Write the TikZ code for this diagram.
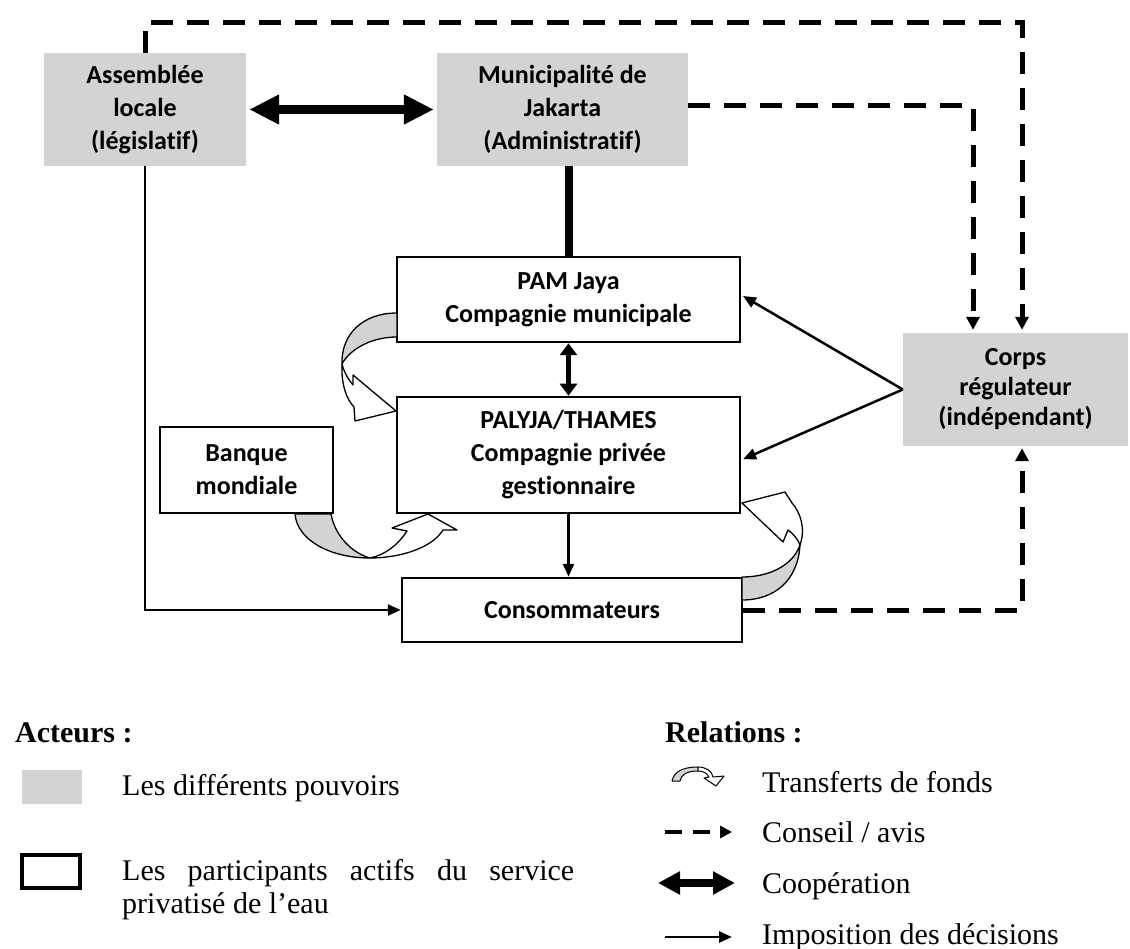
\documentclass[tikz,border=0pt]{standalone}
\usepackage{fontspec}
\setmainfont{Liberation Serif}
\newfontfamily\boxfont{Carlito}[Ligatures=NoCommon]
\usetikzlibrary{arrows.meta}
\definecolor{pgray}{RGB}{211,211,211}
\begin{document}
\begin{tikzpicture}[x=1pt,y=-1pt,
  boxtext/.style={font=\boxfont\bfseries\fontsize{26}{33}\selectfont, align=center, inner sep=0pt},
  power/.style={boxtext, fill=pgray},
  actor/.style={boxtext, draw, line width=2.5pt, fill=white},
  imp/.style={line width=2.5pt, -{Triangle[length=13pt,width=11pt]}},
  adv/.style={line width=5pt, dash pattern=on 22pt off 14pt, -{Triangle[length=13pt,width=13pt]}},
  coop/.style={line width=9pt, {Triangle[length=30pt,width=28pt]}-{Triangle[length=30pt,width=28pt]}},
  fundg/.style={fill=pgray, draw=black, line width=1.3pt, line join=round},
  fundw/.style={fill=white, draw=black, line width=1.3pt, line join=round},
  legend/.style={font=\fontsize{30}{34}\selectfont, anchor=base west, inner sep=0pt},
  legendhead/.style={font=\bfseries\fontsize{30}{34}\selectfont, anchor=base west, inner sep=0pt}]
\useasboundingbox (0,0) rectangle (1130,949);

% nodes
\node[power, minimum width=202pt, minimum height=113pt] (asm) at (145,109.5) {Assemblée\\locale\\(législatif)};
\node[power, minimum width=251pt, minimum height=113pt] (mun) at (562.5,109.5) {Municipalité de\\Jakarta\\(Administratif)};
\node[actor, minimum width=343pt, minimum height=85pt] (pam) at (568.5,299.5) {PAM Jaya\\Compagnie municipale};
\node[actor, minimum width=343pt, minimum height=116pt] (pal) at (568.5,455) {PALYJA/THAMES\\Compagnie privée\\gestionnaire};
\node[actor, minimum width=173pt, minimum height=86pt] (bq) at (246.5,470) {Banque\\mondiale};
\node[actor, minimum width=340pt, minimum height=64pt] (con) at (572,610) {Consommateurs};
\node[power, font=\boxfont\bfseries\fontsize{26}{30}\selectfont, minimum width=225pt, minimum height=113pt] (corps) at (1015.5,389.5) {Corps\\régulateur\\(indépendant)};

% connectors
\draw[coop, shorten <=3pt, shorten >=3pt] (asm.east) -- (mun.west);
\draw[line width=8pt] (pam.north) -- (pam.north |- mun.south);
\draw[line width=5pt, {Triangle[length=12pt,width=17pt]}-{Triangle[length=12pt,width=17pt]}] (pam.south) -- (pal.north);
\draw[imp] (pal.south) -- (pal.south |- con.north);
\draw[imp] (asm.south) |- (con.west);
\draw[imp, shorten >=2pt] (corps.west) -- ([yshift=4.5pt]pam.east);
\draw[imp, shorten >=2pt] (corps.west) -- ([yshift=-5pt]pal.east);

\coordinate (topR) at (1022,23);
\coordinate (munR) at (973,106);
\draw[adv, shorten >=3pt] (asm.north) |- (topR) -- (topR |- corps.north);
\draw[adv, shorten >=3pt] (mun.east |- munR) -- (munR) -- (munR |- corps.north);
\draw[adv, shorten >=2pt] (con.east) -| (topR |- corps.south);

% fund transfers
\draw[fundg] (397,313) .. controls (362,313) and (341,335) .. (342,364) .. controls (348,352) and (368,337) .. (397,337) -- cycle;
\draw[fundw] (342,364) .. controls (341,385) and (347,400) .. (354,407) -- (355,421) -- (396,411) -- (353,375) -- (353,385) .. controls (348,379) and (344,372) .. (342,364) -- cycle;

\draw[fundg] (295,514) .. controls (297,540) and (330,558) .. (370,558) .. controls (352,553) and (335,536) .. (331,514) -- cycle;
\draw[fundw] (370,558) .. controls (400,558) and (432,548) .. (443,530) -- (457,530) -- (428,514) -- (392,528) -- (407,531) .. controls (398,545) and (385,555) .. (370,558) -- cycle;

\draw[fundg] (742,577) .. controls (770,577) and (793,565) .. (800,545) .. controls (798,580) and (775,600) .. (742,600) -- cycle;
\draw[fundw] (800,545) .. controls (806,528) and (800,512) .. (792,503) -- (785,492) -- (742,503) -- (783,542) -- (788,530) .. controls (794,534) and (798,540) .. (800,545) -- cycle;

% legend
\node[legendhead] (hact) at (15,742) {Acteurs :};
\node[fill=pgray, minimum width=60pt, minimum height=34pt, inner sep=0pt] (lgray) at (52,787) {};
\node[legend] (tgray) at (122,795) {Les différents pouvoirs};
\node[draw, line width=4pt, minimum width=58pt, minimum height=33pt, inner sep=0pt] (lwhite) at (51,871.5) {};
\node[legend] (twhite1) at (122,880) {\makebox[452pt][s]{Les participants actifs du service}};
\node[legend] (twhite2) at (122,913) {privatisé de l’eau};

\node[legendhead] (hrel) at (665,742) {Relations :};
\draw[fundg, line width=1pt] (672,781) .. controls (674,771) and (684,767) .. (698,767) -- (698,771) .. controls (688,771) and (681,774) .. (680,781) -- cycle;
\draw[fundw, line width=1pt] (698,767) .. controls (706,767) and (712,771) .. (713,777) -- (724,776) -- (716,786) -- (704,778) -- (709,777) .. controls (707,773) and (703,771) .. (698,771) -- cycle;
\node[legend] (tfund) at (762,792) {Transferts de fonds};

\coordinate (la1) at (665,832);
\coordinate (la2) at (732,832);
\draw[line width=4pt, dash pattern=on 17pt off 11pt, -{Triangle[length=12pt,width=12pt]}] (la1) -- (la2);
\node[legend] (tadv) at (762,842) {Conseil / avis};

\coordinate (lc1) at (658,883);
\coordinate (lc2) at (735,883);
\draw[line width=8pt, {Triangle[length=22pt,width=22pt]}-{Triangle[length=22pt,width=22pt]}] (lc1) -- (lc2);
\node[legend] (tcoop) at (762,893) {Coopération};

\coordinate (li1) at (665,937);
\coordinate (li2) at (732,937);
\draw[imp] (li1) -- (li2);
\node[legend] (timp) at (762,944) {Imposition des décisions};
\end{tikzpicture}
\end{document}
